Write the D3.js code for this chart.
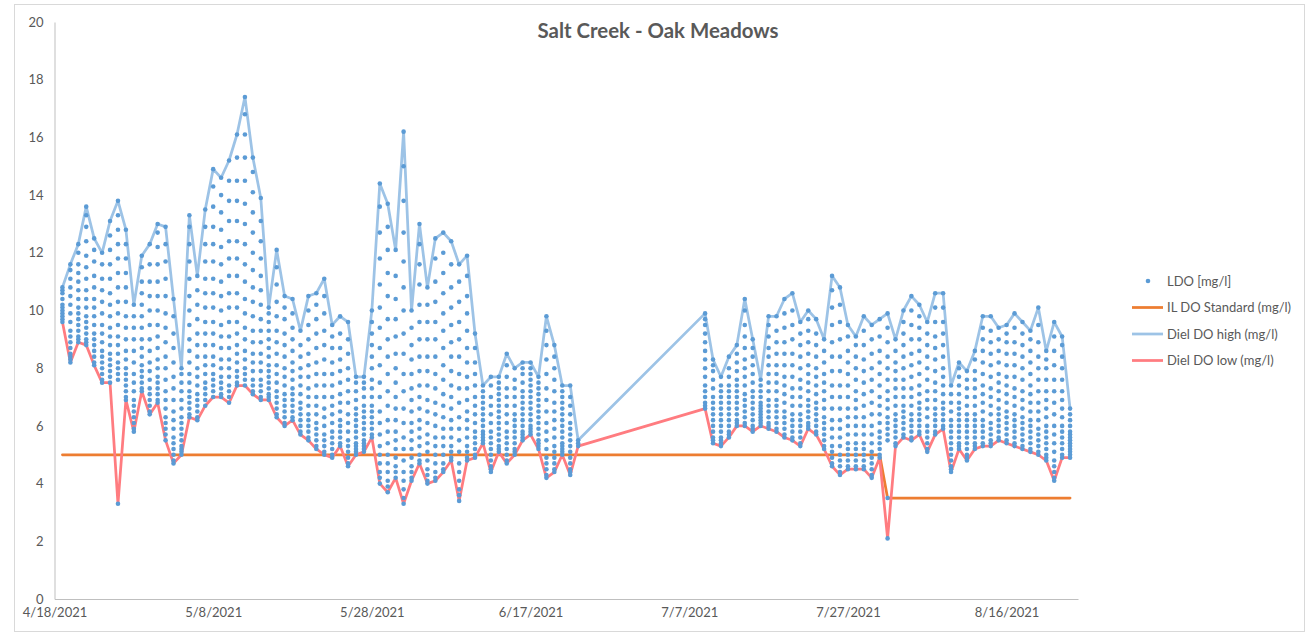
<!doctype html>
<html lang="en">
<head>
<meta charset="utf-8">
<title>Salt Creek - Oak Meadows</title>
<script src="https://d3js.org/d3.v7.min.js"></script>
<style>
  body { margin: 0; background: #fff; }
  text { font-family: Lato, "Open Sans", sans-serif; fill: #595959; }
  .axis path { stroke: #bfbfbf; }
</style>
</head>
<body>
<div id="chart"></div>
<script>
// one entry per logged day (2021)
const days = [
  "4/19","4/20","4/21","4/22","4/23","4/24","4/25","4/26","4/27","4/28","4/29","4/30",
  "5/1","5/2","5/3","5/4","5/5","5/6","5/7","5/8","5/9","5/10","5/11","5/12","5/13","5/14","5/15","5/16",
  "5/17","5/18","5/19","5/20","5/21","5/22","5/23","5/24","5/25","5/26","5/27","5/28","5/29","5/30","5/31",
  "6/1","6/2","6/3","6/4","6/5","6/6","6/7","6/8","6/9","6/10","6/11","6/12","6/13","6/14","6/15","6/16",
  "6/17","6/18","6/19","6/20","6/21","6/22","6/23",
  "7/9","7/10","7/11","7/12","7/13","7/14","7/15","7/16","7/17","7/18","7/19","7/20","7/21","7/22","7/23",
  "7/24","7/25","7/26","7/27","7/28","7/29","7/30","7/31",
  "8/1","8/2","8/3","8/4","8/5","8/6","8/7","8/8","8/9","8/10","8/11","8/12","8/13","8/14","8/15","8/16",
  "8/17","8/18","8/19","8/20","8/21","8/22","8/23","8/24"
];

const dailyHigh = [
  10.8, 11.6, 12.3, 13.6, 12.5, 12.0, 13.1, 13.8, 12.8, 10.2, 11.9, 12.3, 13.0, 12.9, 10.4, 8.0,
  13.3, 11.2, 13.5, 14.9, 14.6, 15.2, 16.1, 17.4, 15.3, 13.9, 10.1, 12.1, 10.5, 10.4, 9.3, 10.5,
  10.6, 11.1, 9.5, 9.8, 9.6, 7.7, 7.7, 10.0, 14.4, 13.7, 12.1, 16.2, 10.0, 13.0, 10.8, 12.5,
  12.7, 12.4, 11.6, 11.9, 9.2, 7.4, 7.7, 7.7, 8.5, 8.0, 8.2, 8.2, 7.7, 9.8, 8.8, 7.4, 7.4, 5.5,
  9.9, 8.3, 7.7, 8.4, 8.8, 10.4, 9.0, 7.6, 9.8, 9.8, 10.4, 10.6, 9.6, 10.0, 9.7, 9.0,
  11.2, 10.8, 9.5, 9.1, 9.8, 9.5, 9.7, 9.9, 9.0, 10.0, 10.5, 10.2, 9.6, 10.6, 10.6, 7.4,
  8.2, 7.9, 8.6, 9.8, 9.8, 9.4, 9.5, 9.9, 9.6, 9.3, 10.1, 8.6, 9.6, 9.1, 6.6
];

const dailyLow = [
  9.6, 8.2, 8.9, 8.8, 8.1, 7.5, 7.5, 3.3, 6.9, 5.8, 7.2, 6.4, 6.8, 5.5, 4.7, 5.0,
  6.3, 6.2, 6.7, 7.0, 7.0, 6.8, 7.4, 7.4, 7.1, 6.9, 6.9, 6.3, 6.0, 6.2, 5.7, 5.5,
  5.2, 5.0, 4.9, 5.3, 4.6, 5.0, 5.1, 5.6, 4.0, 3.7, 4.2, 3.3, 4.1, 4.7, 4.0, 4.1,
  4.4, 4.8, 3.4, 4.8, 4.9, 5.4, 4.4, 5.1, 4.7, 5.0, 5.5, 5.7, 5.2, 4.2, 4.4, 5.0, 4.3, 5.3,
  6.6, 5.4, 5.3, 5.6, 6.0, 6.0, 5.8, 6.0, 5.9, 5.8, 5.6, 5.5, 5.3, 5.9, 5.7, 5.2,
  4.6, 4.3, 4.5, 4.5, 4.5, 4.2, 4.9, 2.1, 5.3, 5.6, 5.5, 5.7, 5.1, 5.7, 5.9, 4.4,
  5.2, 4.8, 5.2, 5.3, 5.3, 5.5, 5.4, 5.3, 5.2, 5.1, 5.0, 4.8, 4.1, 4.9, 4.9
];

// LDO readings per day, in tenths of mg/l
const ldoReadings = [
  "96 97 98 99 100 101 102 104 106 107 108",
  "82 83 84 85 87 89 91 93 96 99 102 105 108 111 114 116",
  "89 90 91 93 95 97 99 101 104 107 110 113 116 120 123",
  "88 89 90 92 94 96 98 101 104 107 111 115 119 124 129 133 136",
  "81 82 84 86 88 90 92 95 98 101 104 108 112 117 121 125",
  "75 76 78 80 82 84 86 89 92 95 99 103 107 111 116 120",
  "75 77 79 81 83 85 88 91 94 98 102 106 111 116 121 126 131",
  "33 76 78 80 82 85 88 91 95 99 103 108 113 118 123 128 133 138",
  "69 70 72 74 76 78 80 83 86 90 94 98 103 108 113 118 123 128",
  "58 59 61 63 65 67 69 72 75 78 82 86 90 94 98 102",
  "72 73 75 77 79 81 84 87 90 94 98 102 106 110 115 119",
  "64 65 67 69 71 73 76 79 82 86 90 95 100 105 110 116 123",
  "68 69 71 73 75 77 80 83 87 91 95 100 105 110 116 122 127 130",
  "55 57 59 61 63 66 69 72 76 80 84 89 94 99 105 111 117 123 129",
  "47 48 50 52 54 56 59 62 65 69 73 77 82 87 92 98 104",
  "50 51 52 53 55 57 59 61 63 66 69 72 75 78 80",
  "63 64 66 68 70 72 75 78 82 86 90 95 100 105 111 117 123 129 133",
  "62 63 65 67 69 71 74 77 80 84 88 92 97 102 107 112",
  "67 69 71 73 75 78 81 84 88 92 96 101 106 111 117 123 129 135",
  "70 72 74 76 78 81 84 88 92 96 101 106 111 117 123 129 136 143 149",
  "70 71 73 75 77 80 83 87 91 95 100 105 110 116 122 128 134 140 146",
  "68 70 72 74 77 80 83 87 91 96 101 106 112 118 124 131 138 145 152",
  "74 75 77 79 82 85 88 92 96 101 106 112 118 124 131 138 145 153 161",
  "74 76 78 80 83 86 90 94 99 104 110 116 123 130 137 145 153 161 168 174",
  "71 72 74 76 79 82 85 89 93 98 103 108 114 120 127 134 141 148 153",
  "69 70 72 74 76 79 82 85 89 93 97 102 107 112 118 124 131 139",
  "69 70 71 73 75 77 79 81 84 87 90 93 96 99 101",
  "63 64 66 68 70 72 75 78 81 85 89 93 98 103 109 115 121",
  "60 61 63 65 67 69 71 74 77 80 84 88 92 97 101 105",
  "62 63 65 67 69 71 73 76 79 82 86 90 94 99 104",
  "57 58 60 62 64 66 68 71 74 77 80 84 88 93",
  "55 56 58 60 62 64 67 70 73 77 81 85 90 95 100 105",
  "52 53 55 57 59 61 64 67 70 74 78 82 87 92 97 102 106",
  "50 51 53 55 57 60 63 66 70 74 78 83 88 93 99 105 111",
  "49 50 52 54 56 58 61 64 67 70 74 78 82 87 91 95",
  "53 54 56 58 60 62 65 68 71 75 79 83 87 92 98",
  "46 47 49 51 53 55 58 61 64 68 72 76 80 85 90 96",
  "50 51 52 53 54 56 58 60 62 64 66 69 72 75 77",
  "51 52 53 54 55 57 59 61 63 65 67 70 73 75 77",
  "56 57 59 61 63 65 67 70 73 76 80 84 88 92 96 100",
  "40 42 44 47 50 53 57 61 65 70 75 81 87 94 101 109 118 127 136 144",
  "37 39 41 44 47 50 54 58 62 67 72 78 84 90 97 105 113 121 129 137",
  "42 44 46 49 52 55 58 62 66 70 75 80 85 91 97 104 112 121",
  "33 35 38 41 44 48 52 56 61 66 72 78 85 92 100 108 117 127 138 150 162",
  "41 42 44 46 49 52 55 58 61 65 69 73 78 83 88 94 100",
  "47 48 50 53 56 59 62 66 70 74 79 84 90 96 102 109 116 123 130",
  "40 41 43 45 48 51 54 57 61 65 69 74 79 84 90 96 102 108",
  "41 42 44 47 50 53 56 60 64 68 73 78 84 90 96 103 110 118 125",
  "44 45 47 50 53 56 59 63 67 71 76 81 87 93 99 106 113 120 127",
  "48 49 51 53 56 59 62 66 70 74 79 84 89 95 101 108 116 124",
  "34 36 38 41 44 47 51 55 59 63 68 73 78 84 90 96 103 110 116",
  "48 49 51 53 56 59 62 65 69 73 77 82 87 93 99 105 112 119",
  "49 50 52 54 56 58 61 64 67 70 74 78 82 87 92",
  "54 55 56 57 58 60 62 64 66 68 70 72 74",
  "44 45 46 48 50 52 54 56 58 61 64 67 70 74 77",
  "51 52 53 55 57 59 61 63 65 67 69 71 73 75 77",
  "47 48 50 52 54 56 58 61 64 67 70 73 77 81 85",
  "50 51 52 54 56 58 60 62 64 67 70 73 76 80",
  "55 56 57 58 60 62 64 66 68 70 72 75 78 80 82",
  "57 58 59 60 62 64 66 68 70 72 74 76 78 80 82",
  "52 53 54 55 57 59 61 63 65 67 69 71 73 75 77",
  "42 43 45 47 49 52 55 58 61 65 69 73 78 83 88 93 98",
  "44 45 47 49 51 53 56 59 62 65 68 72 76 80 84 88",
  "50 51 52 53 54 56 58 60 62 64 66 68 70 72 74",
  "43 44 45 47 49 51 53 55 57 59 61 64 67 70 74",
  "53 54 55",
  "66 67 68 70 72 74 77 80 83 86 89 92 95 97 99",
  "54 55 56 58 60 62 64 66 68 70 73 76 79 81 83",
  "53 54 55 56 58 60 62 64 66 68 70 72 74 77",
  "56 57 58 60 62 64 66 68 70 72 74 77 80 84",
  "60 61 62 64 66 68 70 72 74 76 79 82 85 88",
  "60 61 63 65 67 69 71 74 77 80 83 87 91 95 100 104",
  "58 59 60 62 64 66 68 70 72 75 78 81 84 87 90",
  "60 61 62 63 64 65 66 67 68 70 72 74 76",
  "59 60 61 63 65 67 69 72 75 78 81 84 87 91 95 98",
  "58 59 61 63 65 67 69 72 75 78 81 85 89 93 98",
  "56 57 59 61 63 65 68 71 74 77 81 85 89 94 99 104",
  "55 56 58 60 62 64 67 70 73 77 81 85 90 95 100 106",
  "53 54 56 58 60 62 64 67 70 73 76 80 84 88 92 96",
  "59 60 61 63 65 67 69 72 75 78 81 85 89 93 97 100",
  "57 58 60 62 64 66 68 71 74 77 80 84 88 92 97",
  "52 53 55 57 59 61 63 66 69 72 75 78 82 86 90",
  "46 47 49 51 53 56 59 62 66 70 74 79 84 89 95 101 107 112",
  "43 44 46 48 50 53 56 59 62 66 70 74 79 84 90 96 102 108",
  "45 46 48 50 52 54 57 60 63 66 70 74 78 82 86 91 95",
  "45 46 48 50 52 54 57 60 63 66 69 72 76 80 84 88 91",
  "45 46 48 50 52 54 57 60 63 67 71 75 79 83 88 93 98",
  "42 43 45 47 49 51 54 57 60 64 68 72 76 80 85 90 95",
  "49 50 52 54 56 58 61 64 67 70 74 78 82 86 91 97",
  "21 35 55 57 59 61 63 66 69 72 76 80 84 89 94 99",
  "53 54 56 58 60 62 64 67 70 73 76 79 82 86 90",
  "56 57 59 61 63 65 67 70 73 76 80 84 88 92 96 100",
  "55 56 58 60 62 64 67 70 73 77 81 85 90 95 100 105",
  "57 58 60 62 64 66 68 71 74 78 82 86 90 94 98 102",
  "51 52 54 56 58 60 63 66 69 72 76 80 84 88 92 96",
  "57 58 60 62 64 66 69 72 75 79 83 87 91 96 101 106",
  "59 60 62 64 66 68 71 74 77 80 84 88 92 96 101 106",
  "44 45 46 48 50 52 54 56 58 60 62 65 68 71 74",
  "52 53 54 56 58 60 62 64 66 68 71 74 77 80 82",
  "48 49 50 52 54 56 58 60 62 64 67 70 73 76 79",
  "52 53 54 56 58 60 62 64 67 70 73 76 79 83 86",
  "53 54 56 58 60 62 65 68 71 74 78 82 86 90 94 98",
  "53 54 55 57 59 61 64 67 70 73 77 81 85 89 93 98",
  "55 56 58 60 62 64 66 69 72 75 78 82 86 90 94",
  "54 55 57 59 61 63 65 68 71 74 77 81 85 89 92 95",
  "53 54 56 58 60 62 64 67 70 73 77 81 85 89 94 99",
  "52 53 55 57 59 61 63 66 69 72 76 80 84 88 92 96",
  "51 52 54 56 58 60 62 65 68 71 74 78 82 86 90 93",
  "50 51 53 55 57 59 62 65 68 72 76 80 84 89 95 101",
  "48 49 50 52 54 56 58 60 63 66 69 72 76 80 83 86",
  "41 42 44 46 48 51 54 57 60 64 68 72 76 81 86 91 96",
  "49 50 52 54 56 58 60 63 66 69 72 76 80 84 88 91",
  "49 50 51 52 53 54 55 56 57 58 60 62 64 66"
];

// IL DO standard (mg/l)
const stdDays = ["4/19", "7/31", "8/1", "8/24"];
const stdValues = [5, 5, 3.5, 3.5];

const xTickDays = ["4/18", "5/8", "5/28", "6/17", "7/7", "7/27", "8/16"];
const yTicks = [0, 2, 4, 6, 8, 10, 12, 14, 16, 18, 20];
const seriesNames = ["LDO [mg/l]", "IL DO Standard (mg/l)", "Diel DO high (mg/l)", "Diel DO low (mg/l)"];

const W = 1312, H = 635;
const plot = {left: 54.5, right: 1078, top: 22, bottom: 599};
const colors = {ldo: "#5b9bd5", std: "#ed7d31", high: "#9dc3e6", low: "#ff7c80"};

function toDate(s) {
  const [m, d] = s.split("/");
  return new Date(Date.UTC(2021, +m - 1, +d));
}

const svg = d3.select("#chart").append("svg")
  .attr("width", W)
  .attr("height", H);

svg.append("rect")
  .attr("x", 14.5).attr("y", 4.5)
  .attr("width", 1290).attr("height", 627)
  .attr("fill", "#fff")
  .attr("stroke", "#d9d9d9");

const x = d3.scaleUtc()
  .domain([toDate("4/18"), toDate("8/25")])
  .range([plot.left, plot.right]);

const y = d3.scaleLinear()
  .domain([0, 20])
  .range([plot.bottom, plot.top]);

// axes
svg.append("g")
  .attr("class", "axis")
  .attr("transform", `translate(${plot.left},0)`)
  .call(d3.axisLeft(y).tickValues(yTicks).tickSize(0).tickPadding(11))
  .call(g => g.selectAll("text").style("font-size", "13px").attr("fill", "#595959"));

svg.append("g")
  .attr("class", "axis")
  .attr("transform", `translate(0,${plot.bottom})`)
  .call(d3.axisBottom(x).tickValues(xTickDays.map(toDate))
    .tickFormat(d3.utcFormat("%-m/%-d/%Y")).tickSize(0).tickPadding(9))
  .call(g => g.selectAll("text").style("font-size", "13px").attr("fill", "#595959"));

// title
svg.append("text")
  .attr("x", 658)
  .attr("y", 37.5)
  .attr("text-anchor", "middle")
  .style("font-size", "20.4px")
  .style("font-weight", "bold")
  .text("Salt Creek - Oak Meadows");

const line = d3.line()
  .x(d => x(d.date))
  .y(d => y(d.v));

const std = stdDays.map((s, i) => ({date: toDate(s), v: stdValues[i]}));
const high = days.map((s, i) => ({date: toDate(s), v: dailyHigh[i]}));
const low = days.map((s, i) => ({date: toDate(s), v: dailyLow[i]}));

const lineStyle = (p, color) => p
  .attr("fill", "none")
  .attr("stroke", color)
  .attr("stroke-width", 2.75)
  .attr("stroke-linejoin", "round")
  .attr("stroke-linecap", "round");

svg.append("path").datum(std).attr("d", line).call(lineStyle, colors.std);
svg.append("path").datum(high).attr("d", line).call(lineStyle, colors.high);
svg.append("path").datum(low).attr("d", line).call(lineStyle, colors.low);

// LDO dots
const ldo = [];
days.forEach((s, i) => {
  ldoReadings[i].split(" ").forEach(v => ldo.push({date: toDate(s), v: +v / 10}));
});

svg.append("g")
  .selectAll("circle")
  .data(ldo)
  .join("circle")
    .attr("cx", d => x(d.date))
    .attr("cy", d => y(d.v))
    .attr("r", 2.3)
    .attr("fill", colors.ldo);

// legend
const legend = svg.append("g").attr("transform", "translate(1132,281)");
const legendColors = [colors.ldo, colors.std, colors.high, colors.low];
seriesNames.forEach((name, i) => {
  const g = legend.append("g").attr("transform", `translate(0,${i * 26.5})`);
  if (i === 0) {
    g.append("circle").attr("cx", 16).attr("cy", 0).attr("r", 2.3).attr("fill", legendColors[i]);
  } else {
    g.append("line").attr("x1", 0).attr("x2", 31).attr("y1", 0).attr("y2", 0)
      .attr("stroke", legendColors[i]).attr("stroke-width", 2.75);
  }
  g.append("text")
    .attr("x", 35)
    .attr("y", 0)
    .attr("dy", "0.35em")
    .style("font-size", "13px")
    .text(name);
});
</script>
</body>
</html>
